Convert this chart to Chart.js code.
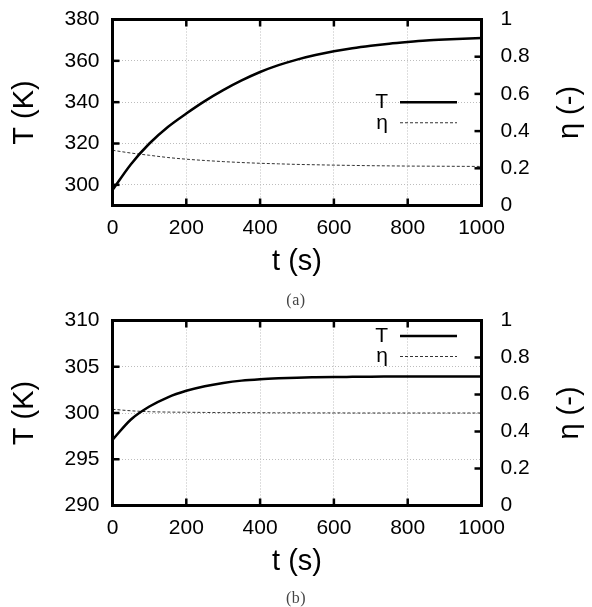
<!DOCTYPE html>
<html><head><meta charset="utf-8">
<script src="https://cdn.jsdelivr.net/npm/chart.js@4"></script>
<style>
html,body{margin:0;padding:0;background:#fff;}
body{width:592px;height:607px;position:relative;overflow:hidden;}
.wrap{position:absolute;left:0;width:592px;}
.cap{position:absolute;left:0;width:592px;text-align:center;font-family:"Liberation Serif","DejaVu Serif",serif;font-size:16px;color:#444;line-height:16px;letter-spacing:0.5px;}
</style></head><body>
<div class="wrap" style="top:0;height:290px"><canvas id="ca"></canvas></div>
<div class="wrap" style="top:301px;height:290px"><canvas id="cb"></canvas></div>
<div class="cap" style="top:292px">(a)</div>
<div class="cap" style="top:590px">(b)</div>
<script>
// ---- data ----
const time  = [0,50,100,150,200,250,300,350,400,450,500,550,600,650,700,750,800,850,900,950,1000];
const T_a   = [297.5,310,320,328,334.5,340.5,345.8,350.5,354.6,357.9,360.6,362.8,364.6,366.1,367.3,368.3,369.1,369.8,370.3,370.7,371.0];
const eta_a = [0.297,0.282,0.270,0.258,0.249,0.242,0.236,0.231,0.227,0.224,0.221,0.219,0.217,0.2155,0.214,0.213,0.212,0.2115,0.211,0.2105,0.210];
const T_b   = [297.1,299.3,300.7,301.7,302.4,302.9,303.25,303.5,303.65,303.75,303.82,303.86,303.89,303.91,303.93,303.94,303.95,303.95,303.95,303.95,303.95];
const eta_b = [0.52,0.512,0.507,0.505,0.504,0.503,0.502,0.502,0.5015,0.501,0.501,0.5005,0.5005,0.5,0.5,0.5,0.5,0.5,0.5,0.5,0.5];
const xTicks   = [0,200,400,600,800,1000];
const yTicks_a = [300,320,340,360,380];
const yTicks_b = [290,295,300,305,310];
const etaTicks = [0,0.2,0.4,0.6,0.8,1];
const seriesNames = ['T','η'];
const xTitle = 't (s)', yTitle = 'T (K)', y2Title = 'η (-)';

Chart.defaults.font.family = '"Liberation Sans", Arial, Helvetica, sans-serif';
Chart.defaults.color = '#000';

const FONT = '"Liberation Sans", Arial, Helvetica, sans-serif';
const W = 592, LEFT = 112.5, RIGHT = 481.5;

const deco = {
  id: 'deco',
  afterDraw(chart) {
    const {ctx, chartArea: a, scales} = chart;
    const g = chart.options.plugins.deco;
    ctx.save();
    const line = (x1,y1,x2,y2) => { ctx.beginPath(); ctx.moveTo(x1,y1); ctx.lineTo(x2,y2); ctx.stroke(); };
    ctx.strokeStyle = '#000'; ctx.lineWidth = 2.5; ctx.setLineDash([]);
    const L = 7;
    scales.x.ticks.forEach(t => { const p = scales.x.getPixelForValue(t.value); line(p,a.bottom,p,a.bottom-L); line(p,a.top,p,a.top+L); });
    scales.y.ticks.forEach(t => { const p = scales.y.getPixelForValue(t.value); line(a.left,p,a.left+L,p); });
    scales.y1.ticks.forEach(t => { const p = scales.y1.getPixelForValue(t.value); line(a.right,p,a.right-L,p); });
    ctx.lineWidth = 3;
    ctx.strokeRect(a.left, a.top, a.right-a.left, a.bottom-a.top);
    // right title
    ctx.save();
    ctx.translate(570, (a.top+a.bottom)/2);
    ctx.rotate(-Math.PI/2);
    ctx.font = '29px ' + FONT; ctx.fillStyle = '#000';
    ctx.textAlign = 'center'; ctx.textBaseline = 'middle';
    ctx.fillText(y2Title, 0, 0);
    ctx.restore();
    // legend
    const rowGap = 20.5;
    const y0 = g.legend === 'center' ? (a.top+a.bottom)/2 - rowGap/2 : a.top + 15.5;
    chart.data.datasets.forEach((ds, i) => {
      const y = y0 + i*rowGap;
      ctx.font = '21px ' + FONT; ctx.fillStyle = '#000';
      ctx.textAlign = 'right'; ctx.textBaseline = 'middle';
      ctx.fillText(ds.label, 388, y);
      ctx.strokeStyle = ds.borderColor; ctx.lineWidth = ds.borderWidth;
      ctx.setLineDash(ds.borderDash || []);
      line(400, y, 457, y);
      ctx.setLineDash([]);
    });
    ctx.restore();
  }
};

function pts(ys) { return time.map((t,i) => ({x: t, y: ys[i]})); }
function noPad(s) { s.paddingTop = 0; s.paddingBottom = 0; s.paddingLeft = 0; s.paddingRight = 0; }

function makeChart(id, T, eta, yMin, yMax, yTicks, geo) {
  const pb = geo.H - 17.4 - (geo.bottom + 56.5);
  return new Chart(document.getElementById(id), {
    type: 'line',
    data: { datasets: [
      { label: seriesNames[0], data: pts(T), yAxisID: 'y', borderColor: '#000', borderWidth: 2.5, pointRadius: 0, cubicInterpolationMode: 'monotone' },
      { label: seriesNames[1], data: pts(eta), yAxisID: 'y1', borderColor: '#333', borderWidth: 1, borderDash: [3,2], pointRadius: 0, cubicInterpolationMode: 'monotone' }
    ]},
    options: {
      responsive: true, maintainAspectRatio: false, animation: false,
      layout: { padding: { top: geo.top, left: 0, right: 0, bottom: 0 } },
      plugins: { legend: { display: false }, tooltip: { enabled: false }, deco: { legend: geo.legend } },
      scales: {
        x: {
          type: 'linear', min: 0, max: 1000,
          afterBuildTicks: s => { s.ticks = xTicks.map(v => ({value: v})); },
          afterFit: s => { s.height = geo.H - geo.bottom; noPad(s); },
          grid: { color: '#bdbdbd', lineWidth: 1, drawTicks: false },
          border: { display: false, dash: [1,2] },
          ticks: { padding: 10, font: { size: 21 }, color: '#000', maxRotation: 0, autoSkip: false, callback: v => String(v) },
          title: { display: true, text: xTitle, font: { size: 29 }, color: '#000', padding: { top: 0, bottom: pb } }
        },
        y: {
          type: 'linear', position: 'left', min: yMin, max: yMax,
          afterBuildTicks: s => { s.ticks = yTicks.map(v => ({value: v})); },
          afterFit: s => { s.width = LEFT; noPad(s); },
          grid: { color: '#bdbdbd', lineWidth: 1, drawTicks: false },
          border: { display: false, dash: [1,2] },
          ticks: { padding: 13, font: { size: 21 }, color: '#000', autoSkip: false, callback: v => String(v) },
          title: { display: true, text: yTitle, font: { size: 29 }, color: '#000', padding: { top: 7.2, bottom: 0 } }
        },
        y1: {
          type: 'linear', position: 'right', min: 0, max: 1,
          afterBuildTicks: s => { s.ticks = etaTicks.map(v => ({value: v})); },
          afterFit: s => { s.width = W - RIGHT; noPad(s); },
          grid: { display: false, drawTicks: false },
          border: { display: false },
          ticks: { padding: 19, font: { size: 21 }, color: '#000', autoSkip: false, callback: v => String(v) }
        }
      }
    },
    plugins: [deco]
  });
}

makeChart('ca', T_a, eta_a, 290, 380, yTicks_a, { H: 290, top: 19.5, bottom: 205.5, legend: 'center' });
makeChart('cb', T_b, eta_b, 290, 310, yTicks_b, { H: 290, top: 19.5, bottom: 204.5, legend: 'top' });
</script>
</body></html>
